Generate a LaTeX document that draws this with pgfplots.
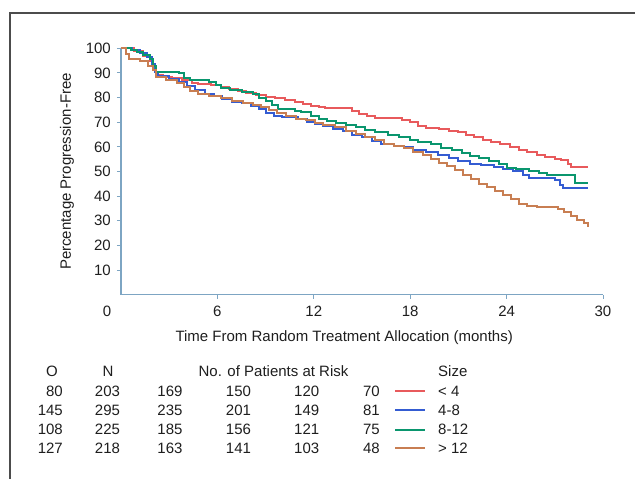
\documentclass[border=0pt]{standalone}
\usepackage{pgfplots}
\pgfplotsset{compat=1.18}
\usepackage{fontspec}
\setmainfont{Liberation Sans}
\definecolor{cred}{RGB}{232,90,92}
\definecolor{cblue}{RGB}{52,92,210}
\definecolor{cgreen}{RGB}{10,150,110}
\definecolor{corange}{RGB}{200,126,82}
\definecolor{caxis}{RGB}{125,165,195}
\definecolor{ctext}{RGB}{30,30,30}
\begin{document}
\fontsize{15pt}{18pt}\selectfont
\begin{tikzpicture}[x=1pt,y=1pt]
\path[use as bounding box] (0,0) rectangle (635,479);
\draw[line width=1.2pt, black!70] (10,0) -- (10,466) -- (635,466);
\begin{axis}[
  at={(121pt,184.3pt)}, anchor=south west, scale only axis,
  width=482pt, height=246.4pt,
  xmin=0, xmax=30, ymin=0, ymax=100,
  axis lines*=left,
  axis line style={caxis, line width=1.1pt},
  every tick/.style={caxis, line width=1pt},
  tick align=outside, major tick length=4pt,
  xtick={6,12,18,24,30}, ytick={10,20,...,100},
  extra x ticks={0}, extra x tick style={tick style={draw=none}, xticklabel style={xshift=-14pt}},
  /pgf/number format/assume math mode=true,
  tick label style={font=\fontsize{15pt}{18pt}\selectfont, text=ctext},
  xticklabel style={yshift=-2pt},
  yticklabel style={xshift=-1pt},
  xlabel={Time From Random Treatment Allocation (months)},
  ylabel={Percentage Progression-Free},
  label style={font=\fontsize{15pt}{18pt}\selectfont, text=ctext},
  xlabel style={at={(axis description cs:0.463,-0.176)}, anchor=center},
  ylabel style={at={(axis description cs:-0.112,0.5)}, anchor=center},
  clip=false,
]
% < 4
\addplot[draw=cred, line width=2pt, const plot] coordinates {
(0,100) (0.8,99) (1.4,97) (1.8,95) (2.0,92) (2.2,89) (2.6,88.5) (3.2,87.8) (3.8,87) (4.4,86)
(4.8,85.5) (5.6,85.2) (6.2,84.2) (6.7,83.6) (7.3,82.8) (7.8,82) (8.4,81) (9.0,80.2) (9.6,79.8)
(10.2,79) (10.8,78.2) (11.3,77.4) (11.8,76.7) (12.3,76) (12.7,75.6) (14.4,74.5) (14.8,73.4)
(15.3,72.4) (15.8,71.8) (17.5,71) (18.0,70) (18.5,68.6) (19.0,67.8) (19.8,67.2) (20.4,66.5)
(21.0,66) (21.5,65) (22.0,64) (22.5,62.8) (23.0,62) (23.6,61.2) (24.2,59.8) (24.8,58.8)
(25.3,58) (25.9,56.8) (26.4,56) (27.0,55.2) (27.4,54.6) (27.8,53) (28.0,52) (29.05,52)
};
% 4-8
\addplot[draw=cblue, line width=2pt, const plot] coordinates {
(0,100) (0.7,99.4) (1.2,98) (1.6,96.5) (1.9,93.5) (2.1,90.5) (2.3,88.6) (3.0,87.6) (3.6,86.5)
(4.1,84.6) (4.6,83) (5.2,81.5) (5.8,80.6) (6.3,79.5) (6.9,78.4) (7.5,77.6) (8.1,76.5) (8.6,75.3)
(9.0,73.8) (9.5,72.6) (10.0,72) (11.0,71.2) (11.6,70.2) (12.1,69.2) (12.6,68.3) (13.2,67.3)
(13.8,66.3) (14.4,65) (15.0,64) (15.6,62.4) (16.2,61.3) (17.0,60.4) (17.6,59.8) (18.2,58.8)
(19.0,58) (19.7,56.6) (20.4,55.6) (21.0,54.4) (21.7,53.2) (22.4,52.6) (23.2,52) (23.8,51.2)
(24.4,50.2) (25.0,48.6) (25.4,47.2) (27.0,46.6) (27.3,44.4) (27.5,43.2) (29.05,43.2)
};
% 8-12
\addplot[draw=cgreen, line width=2pt, const plot] coordinates {
(0,100) (0.6,99.4) (1.0,98.5) (1.4,97.4) (1.8,95.5) (2.0,93) (2.2,90.5) (3.6,89.8) (3.9,88)
(4.3,87.2) (5.5,86.4) (5.9,85) (6.2,84) (6.8,83.2) (7.5,82.4) (8.2,81.4) (8.6,80) (9.0,78.6)
(9.4,77) (9.8,75.4) (10.8,74.5) (11.2,74) (11.8,72.5) (12.3,71.2) (12.8,70.6) (13.4,69.8)
(14.0,68.8) (14.6,68) (15.2,66.8) (15.8,66) (16.6,65) (17.3,64.2) (18.0,62.8) (18.5,62)
(19.3,61) (19.9,59.6) (20.6,58.7) (21.2,57.5) (21.7,56.2) (22.3,55.6) (22.9,54.2) (23.5,53)
(24.0,51.6) (24.6,51) (25.4,50) (26.0,49.2) (26.5,48.4) (28.25,45.3) (29.05,45.3)
};
% > 12
\addplot[draw=corange, line width=2pt, const plot] coordinates {
(0,100) (0.3,97.5) (0.5,95.8) (1.2,94.8) (1.7,93) (2.0,91) (2.2,88.2) (2.8,87) (3.5,85.8)
(3.9,84.4) (4.3,82.6) (4.8,81.4) (5.5,80.5) (6.2,79.8) (6.9,78.6) (7.6,77.8) (8.2,77) (8.7,76)
(9.2,74.8) (9.7,73.8) (10.3,72.6) (10.9,71.5) (11.5,70.8) (12.1,69.6) (12.6,68.8) (13.3,68)
(14.0,66.4) (14.6,65.4) (15.2,64) (15.8,62.6) (16.4,61.2) (17.0,60.3) (17.6,59.6) (18.2,58)
(18.8,56.6) (19.3,55) (19.8,53.6) (20.3,52.2) (20.8,50.6) (21.3,48.6) (21.8,46.8) (22.3,45)
(22.8,43.6) (23.3,42) (23.8,40.6) (24.3,38.8) (24.8,37) (25.3,36) (25.9,35.4) (27.2,34.8)
(27.6,33.4) (28.0,31.8) (28.4,30.4) (28.8,29) (29.05,27.3)
};
\end{axis}
% risk table
\begin{scope}[every node/.style={text=ctext, inner sep=0pt, font=\fontsize{15pt}{18pt}\selectfont}]
\node[anchor=center] at (52,108) {O};
\node[anchor=center] at (108,108) {N};
\node[anchor=center] at (273.5,108) {No. of Patients at Risk};
\node[anchor=west] at (438,108) {Size};
\node[anchor=east] at (63,87.3) {80};
\node[anchor=east] at (63,69) {145};
\node[anchor=east] at (63,49.5) {108};
\node[anchor=east] at (63,30.7) {127};
\node at (107.5,87.3) {203};
\node at (107.5,69) {295};
\node at (107.5,49.5) {225};
\node at (107.5,30.7) {218};
\node at (170,87.3) {169};
\node at (170,69) {235};
\node at (170,49.5) {185};
\node at (170,30.7) {163};
\node at (238.5,87.3) {150};
\node at (238.5,69) {201};
\node at (238.5,49.5) {156};
\node at (238.5,30.7) {141};
\node at (306.7,87.3) {120};
\node at (306.7,69) {149};
\node at (306.7,49.5) {121};
\node at (306.7,30.7) {103};
\node[anchor=east] at (380,87.3) {70};
\node[anchor=east] at (380,69) {81};
\node[anchor=east] at (380,49.5) {75};
\node[anchor=east] at (380,30.7) {48};
\node[anchor=west] at (438,87.3) {< 4};
\node[anchor=west] at (438,69) {4-8};
\node[anchor=west] at (438,49.5) {8-12};
\node[anchor=west] at (438,30.7) {> 12};
\end{scope}
\draw[draw=cred, line width=2pt] (395,87.5) -- (425,87.5);
\draw[draw=cblue, line width=2pt] (395,69) -- (425,69);
\draw[draw=cgreen, line width=2pt] (395,49) -- (425,49);
\draw[draw=corange, line width=2pt] (395,30.5) -- (425,30.5);
\end{tikzpicture}
\end{document}
